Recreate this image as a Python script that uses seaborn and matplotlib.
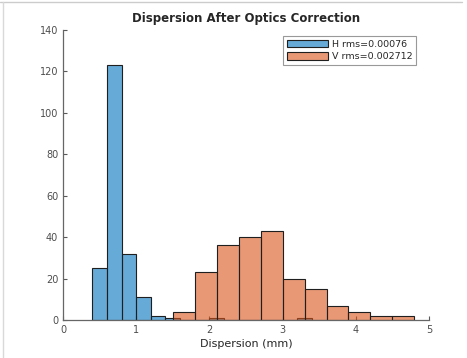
import numpy as np
import pandas as pd
import matplotlib
matplotlib.use("Agg")
import matplotlib.pyplot as plt
import seaborn as sns

# Data
h_edges = [0.4, 0.6, 0.8, 1.0, 1.2, 1.4, 1.6, 1.8, 2.0, 2.2, 2.4, 2.6, 2.8, 3.0, 3.2, 3.4]
h_counts = [25, 123, 32, 11, 2, 1, 0, 0, 1, 0, 0, 0, 0, 0, 1]
v_edges = [1.5, 1.8, 2.1, 2.4, 2.7, 3.0, 3.3, 3.6, 3.9, 4.2, 4.5, 4.8]
v_counts = [4, 23, 36, 40, 43, 20, 15, 7, 4, 2, 2]
h_label = "H rms=0.00076"
v_label = "V rms=0.002712"
title = "Dispersion After Optics Correction"
xlabel = "Dispersion (mm)"
xticks = [0, 1, 2, 3, 4, 5]
yticks = [0, 20, 40, 60, 80, 100, 120, 140]

sns.set_style("white")
plt.rcParams['font.family'] = ['DejaVu Sans']

fig = plt.figure(figsize=(4.67, 3.58), dpi=100)
ax = fig.add_axes([63/467, 1-320/358, (429-63)/467, (320-30)/358])

h_centers = [(a + b) / 2 for a, b in zip(h_edges[:-1], h_edges[1:])]
v_centers = [(a + b) / 2 for a, b in zip(v_edges[:-1], v_edges[1:])]

blue = (0.0, 0.447, 0.741)
orange = (0.85, 0.325, 0.098)

sns.histplot(x=h_centers, weights=h_counts, bins=h_edges, color=blue, alpha=0.6,
             edgecolor=(0.12, 0.12, 0.12), linewidth=0.8, ax=ax, label=h_label)
sns.histplot(x=v_centers, weights=v_counts, bins=v_edges, color=orange, alpha=0.6,
             edgecolor=(0.12, 0.12, 0.12), linewidth=0.8, ax=ax, label=v_label)

ax.set_xlim(0, 5)
ax.set_ylim(0, 140)
ax.set_xticks(xticks)
ax.set_yticks(yticks)
ax.set_xlabel(xlabel, fontsize=8, color=(0.15, 0.15, 0.15), labelpad=3)
ax.set_ylabel("")
ax.set_title(title, fontsize=8.5, fontweight='bold', pad=6)
ax.tick_params(direction='in', length=3, width=0.8, colors=(0.35, 0.35, 0.35),
               labelsize=7, left=True, bottom=True, labelcolor=(0.3, 0.3, 0.3))
sns.despine(ax=ax)
for s in ['left', 'bottom']:
    ax.spines[s].set_color((0.4, 0.4, 0.4))
    ax.spines[s].set_linewidth(0.9)

leg = ax.legend(loc='upper right', bbox_to_anchor=(0.972, 0.99), fontsize=6.8,
                fancybox=False, framealpha=1, edgecolor=(0.6, 0.6, 0.6),
                handlelength=4.3, handleheight=0.9, handletextpad=0.4,
                borderpad=0.4, labelspacing=0.35, borderaxespad=0.3)
leg.get_frame().set_linewidth(0.8)

# figure border lines (screenshot frame)
fig.add_artist(plt.Line2D([0, 462/467], [1-2/358, 1-2/358], color=(0.8, 0.8, 0.8), lw=1))
fig.add_artist(plt.Line2D([3/467, 3/467], [0, 1-2/358], color=(0.85, 0.85, 0.85), lw=1))

fig.savefig("out.png", dpi=100)
